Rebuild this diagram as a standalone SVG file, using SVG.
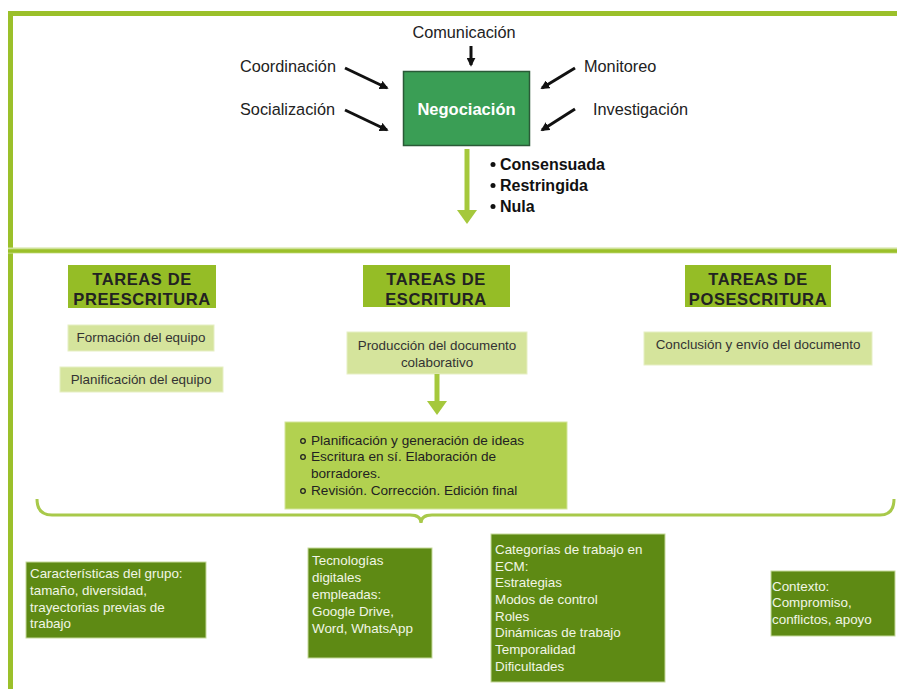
<svg xmlns="http://www.w3.org/2000/svg" width="897" height="689" viewBox="0 0 897 689">
<defs>
<style>
text{font-family:"Liberation Sans",Arial,sans-serif}
.lbl{font-size:16.3px;fill:#222}
.hdr{fill:#95bd26}
.hdrt{font-size:16.5px;font-weight:bold;fill:#222;text-anchor:middle;letter-spacing:0.6px}
.lt{fill:#d5e49c;stroke:#e6efc4;stroke-width:1}
.ltt{font-size:13.4px;fill:#333;text-anchor:middle}
.dk{fill:#5e8a14;stroke:#c5d99a;stroke-width:1}
.dkt{font-size:13.4px;fill:#f2f6e6}
.blk{stroke:#111;stroke-width:3;marker-end:url(#ah)}
</style>
<marker id="ah" viewBox="0 0 10 10" refX="8" refY="5" markerWidth="3" markerHeight="3" orient="auto"><path d="M0,0 L10,5 L0,10 z" fill="#111"/></marker>
</defs>
<rect width="897" height="689" fill="#fff"/>
<g id="frame" fill="none">
<line x1="10.5" y1="11" x2="10.5" y2="689" stroke="#9bc02a" stroke-width="5"/>
<line x1="8" y1="13.5" x2="897" y2="13.5" stroke="#9bc02a" stroke-width="5"/>
<line x1="8" y1="250.5" x2="897" y2="250.5" stroke="#cfe29a" stroke-width="6"/>
<line x1="8" y1="251" x2="897" y2="251" stroke="#9bc02a" stroke-width="3.5"/>
</g>
<g id="negociacion">
<rect x="403.5" y="71.5" width="126" height="74" fill="#3a9e55" stroke="#2a5a37" stroke-width="1.5"/>
<text x="466.5" y="115" text-anchor="middle" font-size="16.5" font-weight="bold" fill="#fff">Negociación</text>
</g>
<g id="comunicacion"><text class="lbl" x="464" y="38" text-anchor="middle">Comunicación</text></g>
<g id="coordinacion"><text class="lbl" x="240" y="72">Coordinación</text></g>
<g id="socializacion"><text class="lbl" x="240" y="115">Socialización</text></g>
<g id="monitoreo"><text class="lbl" x="584" y="72">Monitoreo</text></g>
<g id="investigacion"><text class="lbl" x="593" y="115">Investigación</text></g>
<g id="resultados" font-size="16" font-weight="bold" fill="#111">
<circle cx="493" cy="164.5" r="2.5"/><text x="500" y="170">Consensuada</text>
<circle cx="493" cy="185.5" r="2.5"/><text x="500" y="191">Restringida</text>
<circle cx="493" cy="206.5" r="2.5"/><text x="500" y="212">Nula</text>
</g>
<g id="pre-h"><rect class="hdr" x="68" y="265" width="148" height="43"/>
<text class="hdrt" x="142" y="285">TAREAS DE</text><text class="hdrt" x="142" y="305">PREESCRITURA</text></g>
<g id="esc-h"><rect class="hdr" x="363" y="265" width="147" height="42"/>
<text class="hdrt" x="436" y="285">TAREAS DE</text><text class="hdrt" x="436" y="305">ESCRITURA</text></g>
<g id="pos-h"><rect class="hdr" x="685" y="265" width="146" height="42"/>
<text class="hdrt" x="758" y="285">TAREAS DE</text><text class="hdrt" x="758" y="305">POSESCRITURA</text></g>
<g id="formacion"><rect class="lt" x="68" y="325" width="146" height="26"/><text class="ltt" x="141" y="342">Formación del equipo</text></g>
<g id="planificacion"><rect class="lt" x="60" y="367" width="163" height="25"/><text class="ltt" x="141" y="384">Planificación del equipo</text></g>
<g id="produccion"><rect class="lt" x="347" y="332" width="180" height="42"/>
<text class="ltt" x="437" y="350">Producción del documento</text><text class="ltt" x="437" y="367">colaborativo</text></g>
<g id="conclusion"><rect class="lt" x="644" y="332" width="228" height="33"/><text class="ltt" x="758" y="349">Conclusión y envío del documento</text></g>
<g id="subtareas">
<rect x="285" y="422" width="282" height="87" fill="#b2d150" stroke="#d3e59a" stroke-width="1"/>
<g font-size="13.6" fill="#222">
<circle cx="303" cy="441" r="2.3" fill="none" stroke="#222" stroke-width="1.3"/>
<text x="311" y="445">Planificación y generación de ideas</text>
<circle cx="303" cy="457" r="2.3" fill="none" stroke="#222" stroke-width="1.3"/>
<text x="311" y="461">Escritura en sí. Elaboración de</text>
<text x="311" y="478">borradores.</text>
<circle cx="303" cy="491" r="2.3" fill="none" stroke="#222" stroke-width="1.3"/>
<text x="311" y="495">Revisión. Corrección. Edición final</text>
</g>
</g>
<g id="caracteristicas"><rect class="dk" x="26" y="562" width="180" height="76"/>
<text class="dkt" x="30" y="578">Características del grupo:</text>
<text class="dkt" x="30" y="595">tamaño, diversidad,</text>
<text class="dkt" x="30" y="612">trayectorias previas de</text>
<text class="dkt" x="30" y="628">trabajo</text></g>
<g id="tecnologias"><rect class="dk" x="308" y="548" width="124" height="110"/>
<text class="dkt" x="312" y="565">Tecnologías</text>
<text class="dkt" x="312" y="582">digitales</text>
<text class="dkt" x="312" y="599">empleadas:</text>
<text class="dkt" x="312" y="616">Google Drive,</text>
<text class="dkt" x="312" y="633">Word, WhatsApp</text></g>
<g id="categorias"><rect class="dk" x="491" y="534" width="174" height="148"/>
<text class="dkt" x="495" y="554">Categorías de trabajo en</text>
<text class="dkt" x="495" y="571">ECM:</text>
<text class="dkt" x="495" y="587">Estrategias</text>
<text class="dkt" x="495" y="604">Modos de control</text>
<text class="dkt" x="495" y="621">Roles</text>
<text class="dkt" x="495" y="637">Dinámicas de trabajo</text>
<text class="dkt" x="495" y="654">Temporalidad</text>
<text class="dkt" x="495" y="671">Dificultades</text></g>
<g id="contexto"><rect class="dk" x="771" y="571" width="124" height="65"/>
<text class="dkt" x="772" y="591">Contexto:</text>
<text class="dkt" x="772" y="607">Compromiso,</text>
<text class="dkt" x="772" y="624">conflictos, apoyo</text></g>
<g id="connectors">
<line class="blk" x1="471" y1="46" x2="471" y2="65"/>
<line class="blk" x1="345" y1="68" x2="387" y2="88"/>
<line class="blk" x1="345" y1="110" x2="387" y2="130"/>
<line class="blk" x1="575" y1="68" x2="542" y2="88"/>
<line class="blk" x1="575" y1="109" x2="542" y2="130"/>
<line x1="467" y1="149" x2="467" y2="212" stroke="#a5c83c" stroke-width="5"/>
<polygon points="457,210 477,210 467,224" fill="#a5c83c"/>
<line x1="437" y1="374" x2="437" y2="403" stroke="#a5c83c" stroke-width="5"/>
<polygon points="427,401 447,401 437,415" fill="#a5c83c"/>
<path d="M37,499 Q37,515 52,515 H410 Q421,515 421,523 Q421,515 432,515 H880 Q894,515 894,499" fill="none" stroke="#a8c94a" stroke-width="3"/>
</g>
</svg>
